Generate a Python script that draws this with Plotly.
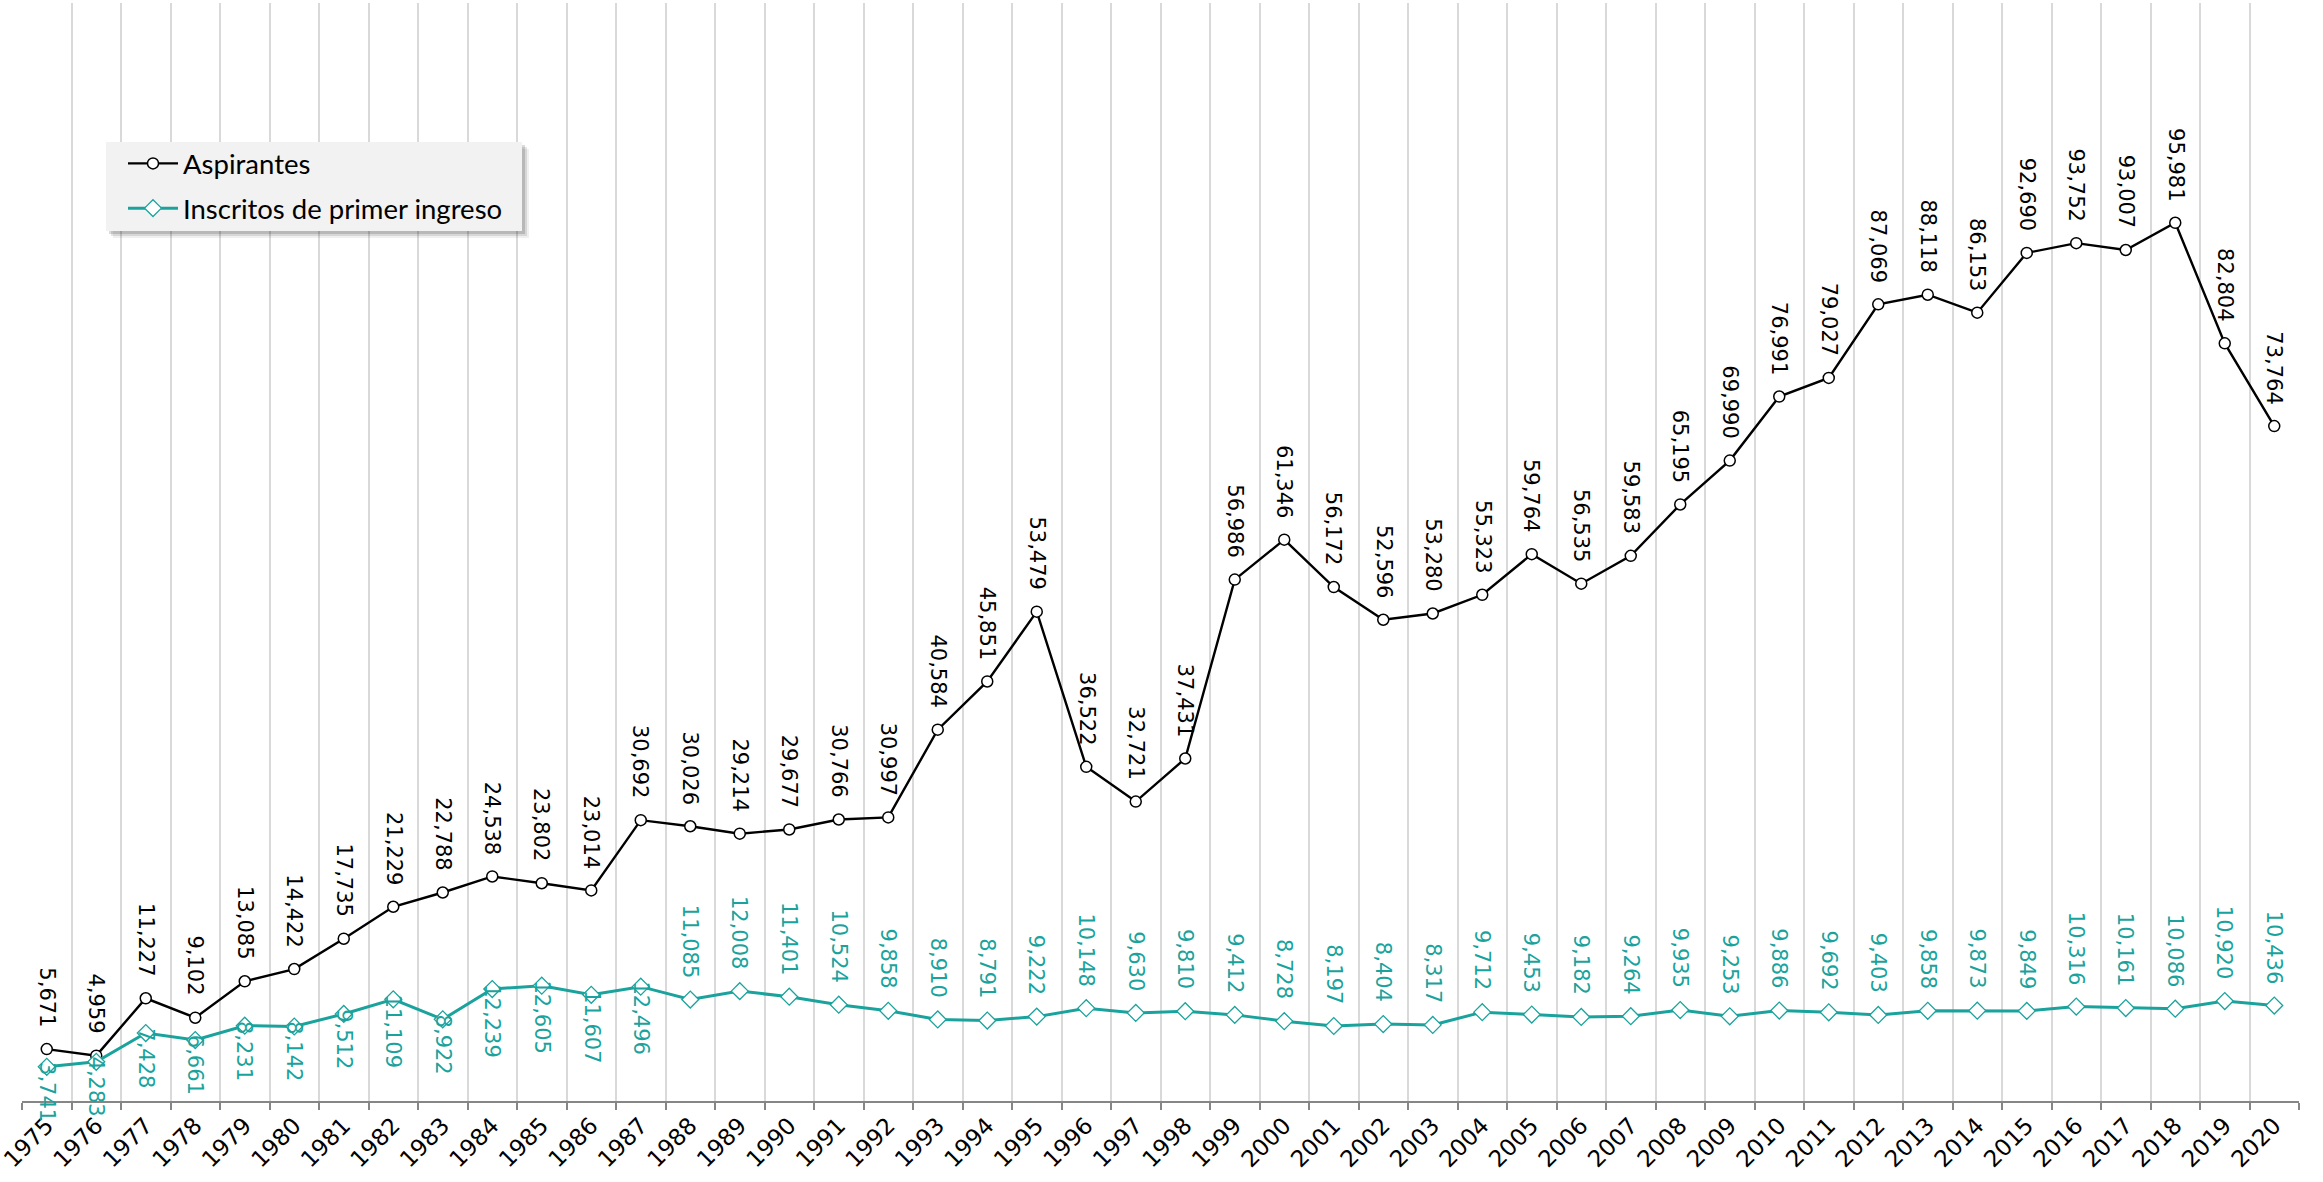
import plotly.graph_objects as go

years = [str(y) for y in range(1975, 2021)]
aspirantes = [5671, 4959, 11227, 9102, 13085, 14422, 17735, 21229, 22788, 24538,
              23802, 23014, 30692, 30026, 29214, 29677, 30766, 30997, 40584, 45851,
              53479, 36522, 32721, 37431, 56986, 61346, 56172, 52596, 53280, 55323,
              59764, 56535, 59583, 65195, 69990, 76991, 79027, 87069, 88118, 86153,
              92690, 93752, 93007, 95981, 82804, 73764]
inscritos = [3741, 4283, 7428, 6661, 8231, 8142, 9512, 11109, 8922, 12239,
             12605, 11607, 12496, 11085, 12008, 11401, 10524, 9858, 8910, 8791,
             9222, 10148, 9630, 9810, 9412, 8728, 8197, 8404, 8317, 9712,
             9453, 9182, 9264, 9935, 9253, 9886, 9692, 9403, 9858, 9873,
             9849, 10316, 10161, 10086, 10920, 10436]

BLACK = "#000000"
TEAL = "#1AA39C"
LABEL_FONT = "DejaVu Sans"

W, H = 2323, 1182
ML, MR, MT, MB = 22, 24, 3, 81
PW, PH = W - ML - MR, H - MT - MB


def px_x(p):
    return (p - ML) / PW


def px_y(p):
    return 1 - (p - MT) / PH


fig = go.Figure()
fig.add_trace(go.Scatter(
    x=years, y=aspirantes, name="Aspirantes", mode="lines+markers",
    line=dict(color=BLACK, width=2.4),
    marker=dict(symbol="circle", size=11, color="white", line=dict(color=BLACK, width=1.5)),
    legendgroup="a",
))
fig.add_trace(go.Scatter(
    x=years, y=inscritos, name="Inscritos de primer ingreso", mode="lines+markers",
    line=dict(color=TEAL, width=3),
    marker=dict(symbol="diamond", size=13, color="white", line=dict(color=TEAL, width=1.3)),
    legendgroup="b",
))

for i, v in enumerate(aspirantes):
    fig.add_annotation(
        x=i, y=v, xref="x", yref="y", text=f"{v:,}", showarrow=False,
        textangle=90, xanchor="center", yanchor="bottom", yshift=20,
        font=dict(family=LABEL_FONT, size=21, color=BLACK),
    )
for i, (yr, v) in enumerate(zip(years, inscritos)):
    below = int(yr) <= 1987
    fig.add_annotation(
        x=i, y=v, xref="x", yref="y", text=f"{v:,}", showarrow=False,
        textangle=90, xanchor="center",
        yanchor="top" if below else "bottom",
        yshift=7 if below else 20,
        font=dict(family=LABEL_FONT, size=21, color=TEAL),
    )

# legend box with soft shadow
bx0, bx1, by0, by1 = 106, 522, 142, 231
for off, alpha in [(7, 0.06), (5, 0.10), (3, 0.14)]:
    fig.add_shape(type="rect", xref="paper", yref="paper",
                  x0=px_x(bx0 + off), x1=px_x(bx1 + off),
                  y0=px_y(by1 + off), y1=px_y(by0 + off),
                  line=dict(width=0), fillcolor=f"rgba(0,0,0,{alpha})", layer="above")
fig.add_shape(type="rect", xref="paper", yref="paper",
              x0=px_x(bx0), x1=px_x(bx1), y0=px_y(by1), y1=px_y(by0),
              line=dict(width=0), fillcolor="#f2f2f2", layer="above")

fig.update_layout(
    width=W, height=H,
    margin=dict(l=ML, r=MR, t=MT, b=MB, autoexpand=False),
    paper_bgcolor="white", plot_bgcolor="white",
    showlegend=True,
    legend=dict(
        x=px_x(123), y=px_y(139), xanchor="left", yanchor="top",
        bgcolor="rgba(0,0,0,0)", borderwidth=0,
        font=dict(family="Lato", size=27.5, color=BLACK),
        itemwidth=50, tracegroupgap=6,
    ),
    xaxis=dict(
        type="category", range=[-0.5, 45.5], tickson="boundaries",
        showgrid=True, gridcolor="#d9d9d9", gridwidth=2,
        ticks="outside", ticklen=7, tickwidth=2, tickcolor="#868686",
        showline=True, linecolor="#868686", linewidth=2,
        tickangle=-45, tickfont=dict(family=LABEL_FONT, size=23, color=BLACK),
        zeroline=False, automargin=False,
    ),
    yaxis=dict(range=[0, 120000], visible=False, showgrid=False, zeroline=False,
               automargin=False),
)

fig.write_html("out.html", config={"displayModeBar": False},
               post_script="document.body.style.margin='0';")
